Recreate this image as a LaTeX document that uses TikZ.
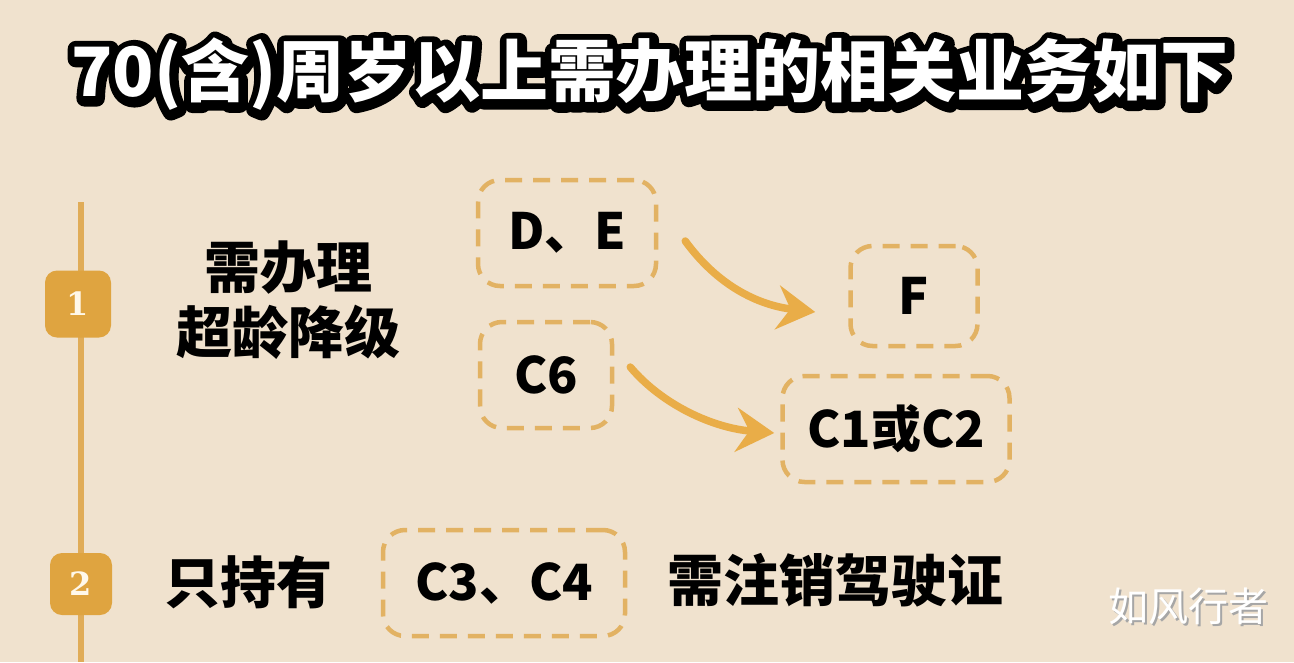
\documentclass[tikz,border=0pt]{standalone}
\usepackage{fontspec}
\newfontfamily\cjk{Noto Sans CJK SC}
\newfontfamily\cjkout{Noto Sans CJK SC}[FakeBold=24]
\newfontfamily\numf{DejaVu Serif}
\usetikzlibrary{arrows.meta,calc}
\definecolor{bgc}{HTML}{F0E2CE}
\definecolor{gold}{HTML}{DFA440}
\definecolor{linec}{HTML}{E0AC58}
\definecolor{dashc}{HTML}{E2B263}
\definecolor{arrc}{HTML}{E9AD48}
\definecolor{cream}{HTML}{FFF8EA}
\begin{document}
\begin{tikzpicture}[x=1pt,y=-1pt,
  dbox/.style={draw=dashc, line width=4.5pt, dash pattern=on 17pt off 11pt,
    rounded corners=22pt, minimum height=106pt, inner sep=0pt,
    font=\cjk\bfseries\fontsize{50}{50}\selectfont},
  arr/.style={draw=arrc, line width=7.5pt, line cap=round,
    -{Stealth[length=38pt,width=44pt,inset=13pt]}},
  badge/.style={fill=gold, rounded corners=12pt, minimum width=64pt,
    minimum height=64pt, inner sep=0pt, text=cream,
    font=\numf\bfseries\fontsize{32}{32}\selectfont},
  lbl/.style={font=\cjk\bfseries\fontsize{56}{65}\selectfont, align=center, inner sep=0pt},
  ttl/.style={font=\cjk\bfseries\fontsize{68}{68}\selectfont, inner sep=0pt},
  ttlo/.style={font=\cjkout\bfseries\fontsize{68}{68}\selectfont, inner sep=0pt},
  wm/.style={font=\cjk\fontsize{40}{40}\selectfont, inner sep=0pt}]
\fill[bgc] (0,0) rectangle (1294,662);
\useasboundingbox (0,0) rectangle (1294,662);
% title with black outline
\begin{scope}[line join=round]
\node[ttlo, text=black] (titleo) at (651,76) {70(含)周岁以上需办理的相关业务如下};
\end{scope}
\node[ttl, text=white] (title) at (650,74) {70(含)周岁以上需办理的相关业务如下};
% timeline
\coordinate (tltop) at (81,202);
\coordinate (tlbot) at (81,662);
\draw[linec, line width=6pt] (tltop) -- (tlbot);
\node[badge, minimum width=66pt, minimum height=67pt] (b1) at (78,304) {1};
\node[badge, minimum width=62pt, minimum height=62pt] (b2) at (81,584) {2};
% section 1
\node[lbl] (t1) at (288,300) {需办理\\超龄降级};
\node[dbox, minimum width=178pt] (de) at (567,233) {D、E};
\node[dbox, minimum width=127pt, minimum height=100pt] (f) at (914,296) {F};
\node[dbox, minimum width=132pt] (c6) at (546,375) {C6};
\node[dbox, minimum width=227pt] (c12) at (896,429) {C1或C2};
\draw[arr] ($(de.east)+(27,8)$) .. controls ($(de.east)+(59,52)$) and ($(f.west)+(-91,9)$) .. ($(f.west)+(-33,16)$);
\draw[arr] ($(c6.east)+(16,-8)$) .. controls ($(c6.east)+(48,30)$) and ($(c12.west)+(-67,-1)$) .. ($(c12.west)+(-6,4)$);
% section 2
\node[lbl] (t2) at (248,582) {只持有};
\node[dbox, minimum width=242pt] (c34) at (504,583) {C3、C4};
\node[lbl] (t3) at (835,580) {需注销驾驶证};
% watermark
\node[wm, text=black!35] (wms) at (1190,608) {如风行者};
\node[wm, text=white] (wmk) at (1188,606) {如风行者};
\end{tikzpicture}
\end{document}
